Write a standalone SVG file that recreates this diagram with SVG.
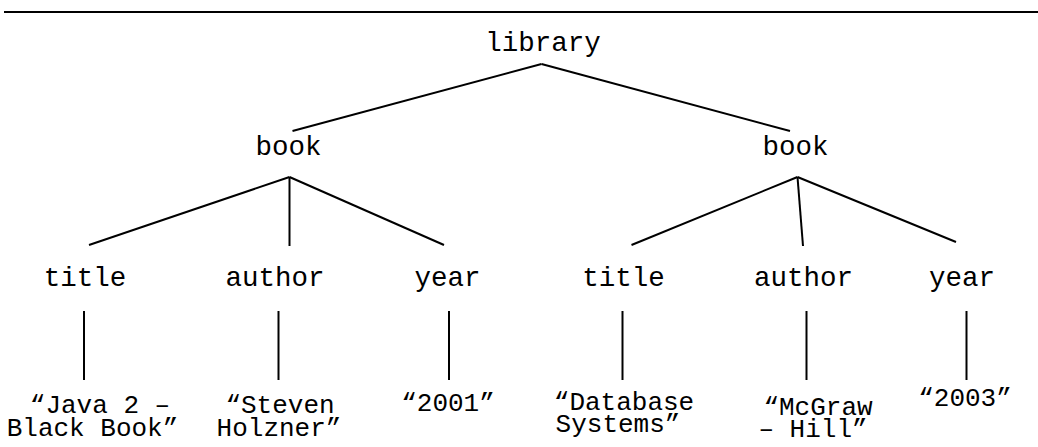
<svg xmlns="http://www.w3.org/2000/svg" width="1038" height="447" viewBox="0 0 1038 447">
  <style>
    .lbl { font-family: "Liberation Mono", "Courier New", monospace; font-size: 27.5px; fill: #000; text-anchor: middle; }
    .val { font-family: "Liberation Mono", "Courier New", monospace; font-size: 26px; fill: #000; text-anchor: middle; }
    .edge { stroke: #000; stroke-width: 2; fill: none; stroke-linecap: butt; }
  </style>
  <rect width="1038" height="447" fill="#fff"/>
  <!-- header rule -->
  <line x1="4" y1="12" x2="1038" y2="12" stroke="#000" stroke-width="2.2"/>

  <g id="connectors">
    <!-- library to books -->
    <line class="edge" x1="541.5" y1="64" x2="292.5" y2="131"/>
    <line class="edge" x1="541.5" y1="64" x2="790" y2="131"/>
    <!-- first book -->
    <line class="edge" x1="289.5" y1="177" x2="89" y2="245"/>
    <line class="edge" x1="289.5" y1="177" x2="289.5" y2="246"/>
    <line class="edge" x1="289.5" y1="177" x2="444" y2="245"/>
    <!-- second book -->
    <line class="edge" x1="797.5" y1="177" x2="631.5" y2="245"/>
    <line class="edge" x1="797.5" y1="177" x2="803" y2="246"/>
    <line class="edge" x1="797.5" y1="177" x2="956" y2="242"/>
    <!-- element to text value -->
    <line class="edge" x1="84" y1="311" x2="84" y2="380"/>
    <line class="edge" x1="278.5" y1="311" x2="278.5" y2="380"/>
    <line class="edge" x1="449" y1="311" x2="449" y2="380"/>
    <line class="edge" x1="622.5" y1="311" x2="622.5" y2="380"/>
    <line class="edge" x1="806.5" y1="311" x2="806.5" y2="380"/>
    <line class="edge" x1="966.5" y1="311" x2="966.5" y2="380"/>
  </g>

  <g id="library"><text class="lbl" x="543" y="51">library</text></g>
  <g id="book1"><text class="lbl" x="288.5" y="155">book</text></g>
  <g id="book2"><text class="lbl" x="795.5" y="155">book</text></g>

  <g id="title1"><text class="lbl" x="85" y="285.5">title</text></g>
  <g id="author1"><text class="lbl" x="275" y="285.5">author</text></g>
  <g id="year1"><text class="lbl" x="447.5" y="285.5">year</text></g>
  <g id="title2"><text class="lbl" x="623.5" y="285.5">title</text></g>
  <g id="author2"><text class="lbl" x="803.5" y="285.5">author</text></g>
  <g id="year2"><text class="lbl" x="962" y="285.5">year</text></g>

  <g id="title1-text">
    <text class="val" x="100" y="413">“Java 2 –</text>
    <text class="val" x="92.5" y="436">Black Book”</text>
  </g>
  <g id="author1-text">
    <text class="val" x="280" y="413">“Steven</text>
    <text class="val" x="279" y="436">Holzner”</text>
  </g>
  <g id="year1-text">
    <text class="val" x="448" y="411">“2001”</text>
  </g>
  <g id="title2-text">
    <text class="val" x="624" y="410">“Database</text>
    <text class="val" x="618" y="432">Systems”</text>
  </g>
  <g id="author2-text">
    <text class="val" x="818" y="415">“McGraw</text>
    <text class="val" x="813" y="437">– Hill”</text>
  </g>
  <g id="year2-text">
    <text class="val" x="965" y="406">“2003”</text>
  </g>
</svg>
